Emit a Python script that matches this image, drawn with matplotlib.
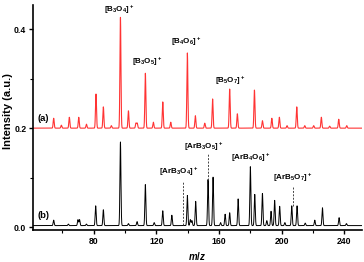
import numpy as np
import matplotlib
matplotlib.use("Agg")
import matplotlib.pyplot as plt
from matplotlib.ticker import MultipleLocator

# peak positions (m/z) and heights
red_mz = [54.5, 59.4, 64.5, 70.5, 75.4, 81.5, 86.2, 91.3, 97.1, 102.2, 107.0, 107.8,
          113.0, 118.1, 124.1, 129.2, 139.8, 144.9, 150.9, 155.9, 166.8, 171.7,
          182.6, 187.7, 193.7, 198.5, 203.4, 209.6, 214.7, 220.4, 225.3, 230.6,
          236.4, 241.5]
red_h = [0.020, 0.006, 0.022, 0.022, 0.008, 0.069, 0.043, 0.005, 0.224, 0.035, 0.010, 0.010,
         0.111, 0.012, 0.053, 0.012, 0.152, 0.025, 0.010, 0.059, 0.079, 0.029,
         0.077, 0.015, 0.020, 0.022, 0.005, 0.043, 0.005, 0.005, 0.022, 0.004,
         0.018, 0.005]
red_offset = 0.2

black_mz = [54.5, 63.9, 70.0, 71.0, 75.4, 81.3, 86.2, 97.1, 102.2, 107.7, 113.0, 118.6,
            124.1, 129.9, 139.8, 141.7, 142.7, 145.1, 153.0, 156.2, 161.0, 163.9,
            166.8, 172.2, 180.0, 182.8, 187.7, 190.5, 193.2, 195.5, 198.7, 202.0,
            206.4, 209.8, 215.0, 221.1, 226.0, 236.6, 241.3]
black_h = [0.011, 0.003, 0.012, 0.012, 0.003, 0.040, 0.032, 0.169, 0.004, 0.008, 0.083, 0.006,
           0.030, 0.021, 0.061, 0.012, 0.010, 0.049, 0.093, 0.098, 0.006, 0.023,
           0.026, 0.054, 0.119, 0.063, 0.065, 0.010, 0.029, 0.051, 0.039, 0.006,
           0.040, 0.040, 0.005, 0.011, 0.036, 0.016, 0.004]
black_base = 0.003

labels_a = [r"[B$_3$O$_4$]$^+$", r"[B$_3$O$_5$]$^+$", r"[B$_4$O$_6$]$^+$", r"[B$_5$O$_7$]$^+$"]
labels_a_pos = [(96, 0.435), (114, 0.330), (139, 0.370), (167, 0.291)]
labels_b = [r"[ArB$_3$O$_4$]$^+$", r"[ArB$_3$O$_5$]$^+$", r"[ArB$_4$O$_6$]$^+$", r"[ArB$_5$O$_7$]$^+$"]
labels_b_pos = [(134, 0.107), (150, 0.158), (180, 0.136), (207, 0.095)]
dash_mz = [137.0, 153.0, 207.0]
dash_y = [(0.004, 0.092), (0.096, 0.150), (0.042, 0.082)]

x = np.linspace(41.5, 251, 6000)

def spectrum(centers, heights, base, w=0.32):
    y = np.full_like(x, base)
    for c, h in zip(centers, heights):
        y += h * np.exp(-(x - c) ** 2 / (2 * w ** 2))
    return y

plt.rcParams['font.family'] = ['Liberation Sans', 'DejaVu Sans']
plt.rcParams['mathtext.fontset'] = 'custom'
plt.rcParams['mathtext.rm'] = 'Liberation Sans:bold'
plt.rcParams['mathtext.it'] = 'Liberation Sans:bold:italic'
plt.rcParams['mathtext.bf'] = 'Liberation Sans:bold'

fig = plt.figure(figsize=(3.64, 2.62), dpi=100)
ax = fig.add_axes([0.0915, 0.122, 0.902, 0.859])

ax.plot(x, spectrum(red_mz, red_h, red_offset), color='#ff3333', lw=0.8)
ax.plot(x, spectrum(black_mz, black_h, black_base), color='black', lw=0.7)

for t, (px, py) in zip(labels_a, labels_a_pos):
    ax.text(px, py, t, ha='center', va='baseline', fontsize=5.8, fontweight='bold')
for t, (px, py) in zip(labels_b, labels_b_pos):
    ax.text(px, py, t, ha='center', va='baseline', fontsize=5.8, fontweight='bold')
for m, (y0, y1) in zip(dash_mz, dash_y):
    ax.plot([m, m], [y0, y1], ls=(0, (2, 1.5)), color='#444444', lw=0.7)

ax.text(44, 0.214, "(a)", fontsize=6.8, fontweight='bold')
ax.text(44, 0.018, "(b)", fontsize=6.8, fontweight='bold')

ax.set_xlim(41.5, 251)
ax.set_ylim(-0.006, 0.449)
ax.xaxis.set_minor_locator(MultipleLocator(20))
ax.yaxis.set_minor_locator(MultipleLocator(0.1))
ax.set_xticks([80, 120, 160, 200, 240])
ax.set_yticks([0.0, 0.2, 0.4])
ax.set_yticklabels(['0.0', '0.2', '0.4'])
ax.tick_params(axis='both', which='major', labelsize=6.2, length=3, width=1, direction='out', pad=2)
ax.tick_params(axis='both', which='minor', length=2, width=0.8, direction='out')
for lab in ax.get_xticklabels() + ax.get_yticklabels():
    lab.set_fontweight('bold')
ax.spines['top'].set_visible(False)
ax.spines['right'].set_visible(False)
ax.spines['left'].set_linewidth(1.2)
ax.spines['bottom'].set_linewidth(1.2)

ax.set_xlabel(r"$m/z$", fontsize=7, labelpad=3)
ax.set_ylabel("Intensity (a.u.)", fontsize=8, fontweight='bold')
ax.yaxis.set_label_coords(-0.062, 0.53)

fig.savefig("out.png", dpi=100)
